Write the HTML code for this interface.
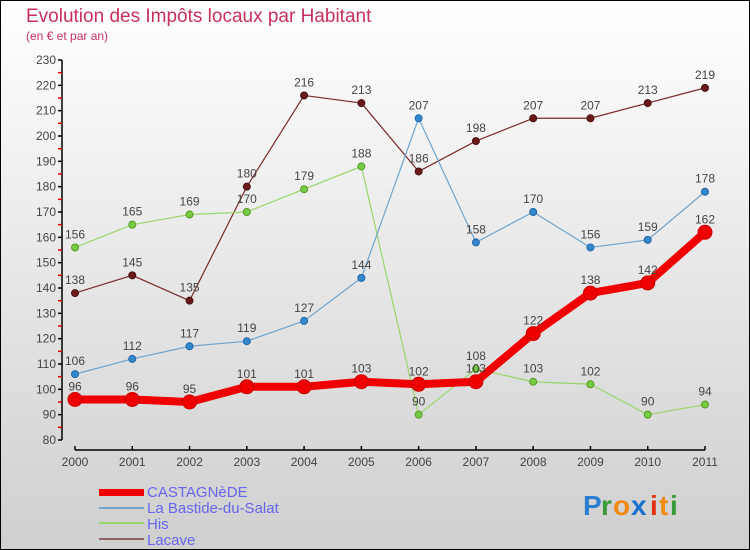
<!DOCTYPE html>
<html><head><meta charset="utf-8"><style>
body{margin:0;width:750px;height:550px;overflow:hidden}
svg{display:block}
text{font-family:"Liberation Sans","DejaVu Sans",sans-serif}
</style></head><body>
<svg id="chart" width="750" height="550" viewBox="0 0 750 550" xmlns="http://www.w3.org/2000/svg">
<defs><linearGradient id="bg" x1="0" y1="0" x2="0" y2="1"><stop offset="0" stop-color="#ffffff"/><stop offset="1" stop-color="#cfcfcf"/></linearGradient></defs>
<rect x="0.5" y="0.5" width="749" height="549" fill="url(#bg)" stroke="#000" stroke-width="1"/>
<text x="26" y="22" font-size="19" fill="#c8305c">Evolution des Impôts locaux par Habitant</text>
<text x="26" y="40" font-size="12" fill="#c8305c">(en € et par an)</text>
<g id="axes"></g>
<g id="series"></g>
<g id="legend">
<rect x="99" y="489" width="45" height="7" fill="#f00000"/>
<text x="147" y="497" font-size="15" fill="#6666ee">CASTAGNèDE</text>
<rect x="99" y="507" width="45" height="2" fill="#6fa4cc"/>
<text x="147" y="513" font-size="15" fill="#6666ee">La Bastide-du-Salat</text>
<rect x="99" y="522" width="45" height="2" fill="#99d66a"/>
<text x="147" y="529" font-size="15" fill="#6666ee">His</text>
<rect x="99" y="538" width="45" height="2" fill="#8f6464"/>
<text x="147" y="545" font-size="15" fill="#6666ee">Lacave</text>
</g>
<g font-size="28" font-weight="bold">
<text x="583" y="515" fill="#2a7fd0">P</text><text x="601" y="515" fill="#3a9a3a">r</text><text x="613" y="515" fill="#f08a10">o</text><text x="631" y="515" fill="#1a6fd0">x</text><text x="650" y="515" fill="#e03010">i</text><text x="659" y="515" fill="#f08a10">t</text><text x="670" y="515" fill="#3a9a3a">i</text>
</g>
</svg>
<script>
const years=[2000,2001,2002,2003,2004,2005,2006,2007,2008,2009,2010,2011];
const yTicks=[80,90,100,110,120,130,140,150,160,170,180,190,200,210,220,230];
const castagnede=[96,96,95,101,101,103,102,103,122,138,142,162];
const laBastide=[106,112,117,119,127,144,207,158,170,156,159,178];
const his=[156,165,169,170,179,188,90,108,103,102,90,94];
const lacave=[138,145,135,180,216,213,186,198,207,207,213,219];

const NS="http://www.w3.org/2000/svg";
function xs(i){return 75+i*(630/11);}
function ys(v){return 440-(v-80)*(380/150);}
function mk(tag,attrs,parent){const e=document.createElementNS(NS,tag);for(const k in attrs)e.setAttribute(k,attrs[k]);parent.appendChild(e);return e;}
const axes=document.getElementById('axes');
const ya=mk('line',{x1:62,y1:60,x2:62,y2:440,stroke:'#000','stroke-width':1.5},axes);


yTicks.forEach((t,i)=>{
  const y=ys(t);
  const tk=mk('line',{x1:58,y1:y,x2:62,y2:y,stroke:'#000','stroke-width':1.5},axes);
  
  
  const lb=mk('text',{x:56,y:y+4,'font-size':12,fill:'#444','text-anchor':'end'},axes);
  lb.textContent=t;
  
  
  if(i<yTicks.length-1){
    const m=mk('line',{x1:58,y1:ys(t+5),x2:62,y2:ys(t+5),stroke:'#e00000','stroke-width':1.5},axes);
    
    
  }
});
const xa=mk('line',{x1:75,y1:450,x2:705,y2:450,stroke:'#000','stroke-width':1.5},axes);


years.forEach((yr,i)=>{
  const x=xs(i);
  const tk=mk('line',{x1:x,y1:446,x2:x,y2:450,stroke:'#000','stroke-width':1.5},axes);
  
  
  const lb=mk('text',{x:x,y:466,'font-size':12,fill:'#444','text-anchor':'middle'},axes);
  lb.textContent=yr;
  
  
});
const sg=document.getElementById('series');
function drawSeries(vals,name,color,lw,r,ptColor,ptStroke){
  const g=mk('g',{},sg);
  
  
  const pts=vals.map((v,i)=>xs(i)+','+ys(v)).join(' ');
  const pl=mk('polyline',{points:pts,fill:'none',stroke:color,'stroke-width':lw,'stroke-linejoin':'round'},g);
  
  
  vals.forEach((v,i)=>{
    const c=mk('circle',{cx:xs(i),cy:ys(v),r:r,fill:ptColor,stroke:ptStroke,'stroke-width':1},g);
    
    
    const t=mk('text',{x:xs(i),y:ys(v)-9,'font-size':12,fill:'#444','text-anchor':'middle'},g);
    t.textContent=v;
    
    
  });
}
drawSeries(lacave,'lacave','#7a2a2a',1.2,3.5,'#6a1a1a','#4a1010');
drawSeries(his,'his','#99d66a',1.2,3.5,'#77cc44','#559922');
drawSeries(laBastide,'la-bastide','#6fa4cc',1.2,3.5,'#3388cc','#2266aa');
drawSeries(castagnede,'castagnede','#f00000',8,7,'#ee0000','#cc0000');
</script>
</body></html>
